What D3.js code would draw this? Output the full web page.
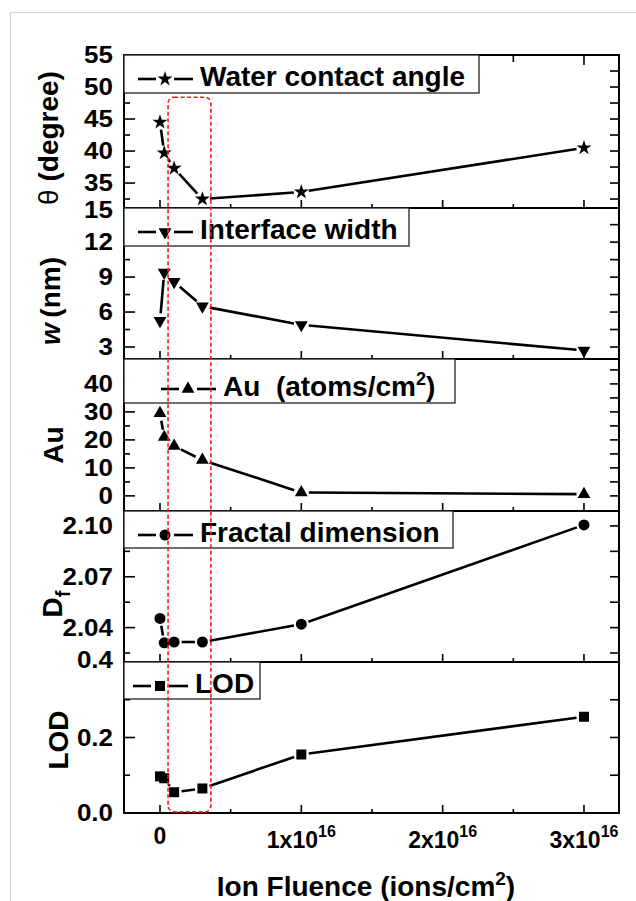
<!DOCTYPE html>
<html>
<head>
<meta charset="utf-8">
<script src="https://cdn.jsdelivr.net/npm/d3@7"></script>
<style>
  body { margin: 0; background: #fff; }
  text { font-family: "Liberation Sans", Arial, sans-serif; font-weight: bold; fill: #000; white-space: pre; }
</style>
</head>
<body>
<div id="chart"></div>
<script>
// x values (ions/cm2)
var fluence = [0, 3e14, 1e15, 3e15, 1e16, 3e16];

// series
var contactAngle   = [44.5, 39.7, 37.3, 32.5, 33.6, 40.5];
var interfaceWidth = [5.25, 9.4, 8.6, 6.5, 4.9, 2.7];
var auDose         = [29.5, 21.0, 17.8, 12.8, 1.2, 0.6];
var fractalDim     = [2.0454, 2.0310, 2.0315, 2.0315, 2.0420, 2.1006];
var lodValues      = [0.097, 0.092, 0.055, 0.065, 0.155, 0.255];

// tick labels
var angleTicks   = [35, 40, 45, 50, 55];
var angleMinor   = [32.5, 37.5, 42.5, 47.5, 52.5];
var widthTicks   = [3, 6, 9, 12, 15];
var widthMinor   = [4.5, 7.5, 10.5, 13.5];
var auTicks      = [0, 10, 20, 30, 40];
var auMinor      = [5, 15, 25, 35, 45];
var fractalTicks = [2.04, 2.07, 2.10];
var fractalMinor = [2.025, 2.055, 2.085];
var lodTicks     = [0.0, 0.2, 0.4];
var lodMinor     = [0.1, 0.3];
var xTicks       = [0, 1e16, 2e16, 3e16];
var xTickLabels  = ["0", "1x10", "2x10", "3x10"];
var xMinor       = [0.5e16, 1.5e16, 2.5e16];

var W = 636, H = 901;
var left = 124, right = 619;

var svg = d3.select("#chart").append("svg")
    .attr("width", W)
    .attr("height", H);

// faint figure border
svg.append("rect")
    .attr("x", 10.5).attr("y", 12.5)
    .attr("width", 700).attr("height", 1000)
    .attr("fill", "none")
    .attr("stroke", "#d4d4d4")
    .attr("stroke-width", 1.2);

var x = d3.scaleLinear().domain([-0.2547e16, 3.2478e16]).range([left, right]);

var panels = [
    { values: contactAngle, domain: [31.1, 55], top: 55, bottom: 208,
      ticks: angleTicks, minor: angleMinor, fmt: d3.format("d"), topShift: 0,
      symbol: d3.symbolStar, size: 70, rot: 0,
      legend: [{ t: "Water contact angle" }], boxW: 355, boxH: 38, dx: 0, base: 31,
      label: [{ t: "\u03b8", light: true }, { t: " (degree)" }], labelX: 58, labelY: 138 },
    { values: interfaceWidth, domain: [1.97, 14.93], top: 208, bottom: 359,
      ticks: widthTicks, minor: widthMinor, fmt: d3.format("d"), topShift: 3,
      symbol: d3.symbolTriangle, size: 72, rot: 180,
      legend: [{ t: "Interface width" }], boxW: 285, boxH: 38, dx: 0, base: 31,
      label: [{ t: "w", italic: true }, { t: "\u2009(nm)" }], labelX: 60, labelY: 301 },
    { values: auDose, domain: [-5.4, 48.9], top: 359, bottom: 511,
      ticks: auTicks, minor: auMinor, fmt: d3.format("d"), topShift: 0,
      symbol: d3.symbolTriangle, size: 72, rot: 0,
      legend: [{ t: "Au  (atoms/cm" }, { t: "2", sup: true }, { t: ")" }], boxW: 331, boxH: 44, dx: 23, base: 37,
      label: [{ t: "Au" }], labelX: 63, labelY: 445 },
    { values: fractalDim, domain: [2.0197, 2.1088], top: 511, bottom: 662,
      ticks: fractalTicks, minor: fractalMinor, fmt: d3.format(".2f"), topShift: 0,
      symbol: d3.symbolCircle, size: 95, rot: 0,
      legend: [{ t: "Fractal dimension" }], boxW: 329, boxH: 37, dx: 0, base: 31,
      label: [{ t: "D" }, { t: "f", sub: true }], labelX: 62, labelY: 604 },
    { values: lodValues, domain: [0, 0.4], top: 662, bottom: 813,
      ticks: lodTicks, minor: lodMinor, fmt: d3.format(".1f"), topShift: -2,
      symbol: d3.symbolSquare, size: 100, rot: 0,
      legend: [{ t: "LOD" }], boxW: 136, boxH: 37, dx: -5, base: 31,
      label: [{ t: "LOD" }], labelX: 68, labelY: 740 }
];

// rich text helper for sup / sub / italic parts
function richText(sel, parts, supSize) {
    var shift = 0;
    parts.forEach(function (p) {
        var ts = sel.append("tspan").text(p.t);
        if (p.italic) ts.style("font-style", "italic");
        if (p.light) ts.style("font-weight", "normal");
        if (p.sup) {
            ts.attr("dy", -shift - 11).style("font-size", supSize + "px");
            shift = -11;
        } else if (p.sub) {
            ts.attr("dy", -shift + 8).style("font-size", supSize + "px");
            shift = 8;
        } else if (shift !== 0) {
            ts.attr("dy", -shift);
            shift = 0;
        }
    });
}

// line segments that stop short of each marker
function gappedSegments(pts, gap) {
    var segs = [];
    for (var i = 0; i < pts.length - 1; i++) {
        var a = pts[i], b = pts[i + 1];
        var dx = b[0] - a[0], dy = b[1] - a[1];
        var len = Math.sqrt(dx * dx + dy * dy);
        if (len <= 2 * gap + 1) continue;
        var ux = dx / len, uy = dy / len;
        segs.push([a[0] + ux * gap, a[1] + uy * gap, b[0] - ux * gap, b[1] - uy * gap]);
    }
    return segs;
}

var redTopY, redBottomY;

panels.forEach(function (p, idx) {
    var y = d3.scaleLinear().domain(p.domain).range([p.bottom, p.top]);
    var g = svg.append("g");
    var inDom = function (v) { return v >= p.domain[0] && v <= p.domain[1]; };

    // left ticks
    g.selectAll(".lmaj").data(p.ticks.filter(inDom)).enter().append("line")
        .attr("x1", left).attr("x2", left + 11)
        .attr("y1", function (d) { return y(d); }).attr("y2", function (d) { return y(d); })
        .attr("stroke", "#000").attr("stroke-width", 1.6);
    g.selectAll(".lmin").data(p.minor.filter(inDom)).enter().append("line")
        .attr("x1", left).attr("x2", left + 6)
        .attr("y1", function (d) { return y(d); }).attr("y2", function (d) { return y(d); })
        .attr("stroke", "#000").attr("stroke-width", 1.6);
    // right ticks
    g.selectAll(".rt").data(p.ticks.concat(p.minor).filter(inDom)).enter().append("line")
        .attr("x1", right - 9).attr("x2", right)
        .attr("y1", function (d) { return y(d); }).attr("y2", function (d) { return y(d); })
        .attr("stroke", "#000").attr("stroke-width", 1.6);
    // bottom ticks
    g.selectAll(".bmaj").data(xTicks).enter().append("line")
        .attr("x1", function (d) { return x(d); }).attr("x2", function (d) { return x(d); })
        .attr("y1", p.bottom - 8).attr("y2", p.bottom)
        .attr("stroke", "#000").attr("stroke-width", 1.6);
    g.selectAll(".bmin").data(xMinor).enter().append("line")
        .attr("x1", function (d) { return x(d); }).attr("x2", function (d) { return x(d); })
        .attr("y1", p.bottom - 4).attr("y2", p.bottom)
        .attr("stroke", "#000").attr("stroke-width", 1.6);
    if (idx === 0) {
        g.selectAll(".tmaj").data(xTicks).enter().append("line")
            .attr("x1", function (d) { return x(d); }).attr("x2", function (d) { return x(d); })
            .attr("y1", p.top).attr("y2", p.top + 10)
            .attr("stroke", "#000").attr("stroke-width", 1.6);
        g.selectAll(".tmin").data(xMinor).enter().append("line")
            .attr("x1", function (d) { return x(d); }).attr("x2", function (d) { return x(d); })
            .attr("y1", p.top).attr("y2", p.top + 7)
            .attr("stroke", "#000").attr("stroke-width", 1.6);
    }

    // tick labels (the original face is a little wider than Liberation Sans)
    var top = p.ticks[p.ticks.length - 1];
    g.selectAll(".tl").data(p.ticks).enter().append("text")
        .attr("transform", function (d) {
            var yy = y(d) + (d === top ? p.topShift : 0);
            return "translate(113," + yy + ") scale(1.13,1)";
        })
        .attr("dy", "0.36em")
        .attr("text-anchor", "end")
        .style("font-size", "23px")
        .text(function (d) { return p.fmt(d); });

    // data line + markers
    var pts = p.values.map(function (v, i) { return [x(fluence[i]), y(v)]; });
    g.selectAll(".seg").data(gappedSegments(pts, 7.5)).enter().append("line")
        .attr("x1", function (d) { return d[0]; }).attr("y1", function (d) { return d[1]; })
        .attr("x2", function (d) { return d[2]; }).attr("y2", function (d) { return d[3]; })
        .attr("stroke", "#000").attr("stroke-width", 2.6);
    var sym = d3.symbol().type(p.symbol).size(p.size);
    g.selectAll(".mk").data(pts).enter().append("path")
        .attr("d", sym)
        .attr("transform", function (d) { return "translate(" + d[0] + "," + d[1] + ") rotate(" + p.rot + ")"; })
        .attr("fill", "#000");

    // frame
    g.append("rect")
        .attr("x", left).attr("y", p.top)
        .attr("width", right - left).attr("height", p.bottom - p.top)
        .attr("fill", "none").attr("stroke", "#000").attr("stroke-width", 2);

    // legend box
    var lg = g.append("g");
    lg.append("rect")
        .attr("x", left).attr("y", p.top)
        .attr("width", p.boxW).attr("height", p.boxH)
        .attr("fill", "#fff").attr("stroke", "#222").attr("stroke-width", 1.3);
    var ly = p.top + p.base - 7;
    var mx = 165 + p.dx;
    [[138 + p.dx, mx - 9], [mx + 9, 193 + p.dx]].forEach(function (s) {
        lg.append("line")
            .attr("x1", s[0]).attr("x2", s[1])
            .attr("y1", ly).attr("y2", ly)
            .attr("stroke", "#000").attr("stroke-width", 2.6);
    });
    lg.append("path")
        .attr("d", sym)
        .attr("transform", "translate(" + mx + "," + ly + ") rotate(" + p.rot + ")")
        .attr("fill", "#000");
    var lt = lg.append("text")
        .attr("x", 200 + p.dx)
        .attr("y", p.top + p.base)
        .style("font-size", "28px");
    richText(lt, p.legend, 18);

    // y title (rotated)
    var yt = g.append("text")
        .attr("transform", "translate(" + p.labelX + "," + p.labelY + ") rotate(-90)")
        .attr("text-anchor", "middle")
        .style("font-size", "28px");
    richText(yt, p.label, 20);

    if (idx === 0) redTopY = y(48.4);
    if (idx === panels.length - 1) redBottomY = y(0.003);
});

// x tick labels under the last panel
var xl = svg.append("g");
xTicks.forEach(function (v, i) {
    var t = xl.append("text")
        .attr("x", x(v))
        .attr("y", i === 0 ? 844 : 848)
        .attr("text-anchor", "middle")
        .style("font-size", "23px");
    if (i === 0) {
        t.text(xTickLabels[i]);
    } else {
        richText(t, [{ t: xTickLabels[i] }, { t: "16", sup: true }], 16);
    }
});

// x axis title
var xt = svg.append("text")
    .attr("x", 366)
    .attr("y", 896)
    .attr("text-anchor", "middle")
    .style("font-size", "28px");
richText(xt, [{ t: "Ion Fluence (ions/cm" }, { t: "2", sup: true }, { t: ")" }], 19);

// red dashed highlight around the low-fluence region
svg.append("rect")
    .attr("x", x(5.7e14))
    .attr("y", redTopY)
    .attr("width", x(3.6e15) - x(5.7e14))
    .attr("height", redBottomY - redTopY)
    .attr("rx", 6).attr("ry", 6)
    .attr("fill", "none")
    .attr("stroke", "#ff1a1a")
    .attr("stroke-width", 1.6)
    .attr("stroke-dasharray", "4,2.5");
</script>
</body>
</html>
